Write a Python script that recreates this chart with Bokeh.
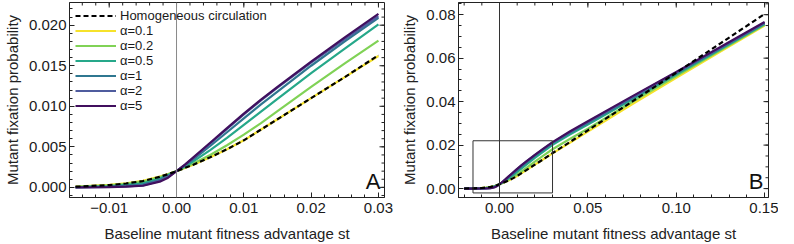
from bokeh.plotting import figure
from bokeh.layouts import row
from bokeh.models import (SingleIntervalTicker, CustomJSTickFormatter,
                          Span, Label, Legend, LegendItem, BoxAnnotation)
from bokeh.embed import file_html
from bokeh.resources import INLINE
import numpy as np

# ---------------- data ----------------
s = [-0.02, -0.015, -0.01, -0.0075, -0.005, -0.0025, -0.00125, 0.0, 0.00125, 0.0025, 0.005, 0.0075,
     0.01, 0.0125, 0.015, 0.02, 0.025, 0.03, 0.04, 0.05, 0.075, 0.1, 0.125, 0.15]

homogeneous = [0.00003, 0.00008, 0.00028, 0.00048, 0.00078, 0.0013, 0.00163, 0.0020, 0.0024, 0.0028,
               0.0037, 0.0047, 0.0058, 0.0071, 0.0084, 0.0110, 0.0136, 0.0163, 0.0215, 0.0268,
               0.0400, 0.0533, 0.0668, 0.0803]
alpha_0_1 = [0.00003, 0.00009, 0.0003, 0.0005, 0.0008, 0.00132, 0.00165, 0.0020, 0.0024, 0.0028,
             0.0037, 0.0047, 0.0058, 0.0071, 0.0084, 0.0110, 0.0136, 0.0162, 0.0212, 0.0262,
             0.0388, 0.0510, 0.0630, 0.0750]
alpha_0_2 = [0.00002, 0.00006, 0.00024, 0.00042, 0.0007, 0.00124, 0.0016, 0.0020, 0.00246, 0.00295,
             0.0040, 0.0052, 0.0065, 0.0079, 0.0094, 0.0124, 0.0153, 0.0181, 0.0229, 0.0275,
             0.0398, 0.0518, 0.0636, 0.0754]
alpha_0_5 = [0.00001, 0.00003, 0.00014, 0.0003, 0.0005, 0.0011, 0.00152, 0.0020, 0.00258, 0.0032,
             0.0046, 0.0061, 0.0077, 0.0093, 0.0109, 0.0141, 0.0171, 0.0201, 0.0250, 0.0295,
             0.0410, 0.0525, 0.0641, 0.0757]
alpha_1 = [0.0, 0.00002, 0.0001, 0.0002, 0.00035, 0.0009, 0.0014, 0.0020, 0.0027, 0.00345,
           0.0051, 0.0068, 0.0085, 0.0102, 0.0118, 0.0150, 0.0180, 0.0209, 0.0258, 0.0303,
           0.0416, 0.0530, 0.0645, 0.0760]
alpha_2 = [0.0, 0.00001, 0.00005, 0.00012, 0.00025, 0.0008, 0.0013, 0.0020, 0.00278, 0.0036,
           0.0054, 0.0072, 0.0090, 0.0107, 0.0123, 0.0154, 0.0183, 0.0211, 0.0260, 0.0306,
           0.0420, 0.0534, 0.0648, 0.0763]
alpha_5 = [0.0, 0.0, 0.00003, 0.00008, 0.0002, 0.0007, 0.0012, 0.0020, 0.0028, 0.0037,
           0.0055, 0.0073, 0.0091, 0.0108, 0.0124, 0.0155, 0.0185, 0.0214, 0.0264, 0.0310,
           0.0424, 0.0537, 0.0651, 0.0766]

alpha_labels = ["α=0.1", "α=0.2", "α=0.5", "α=1", "α=2", "α=5"]
alpha_series = [alpha_0_1, alpha_0_2, alpha_0_5, alpha_1, alpha_2, alpha_5]
alpha_colors = ["#F6E22B", "#80D256", "#26A88A", "#2F7790", "#4F5C9E", "#410F5E"]
hom_label = "Homogeneous circulation"

panel_a_s = (-0.015, 0.03)                  # s-window of panel A
inset_box = (-0.015, 0.03, -0.002, 0.022)   # box in panel B marking panel A

x_label = "Baseline mutant fitness advantage st"
y_label = "Mutant fixation probability"

FONT = "Liberation Sans"
FRAME = "#222222"
H = 244


def fmt(decimals):
    return CustomJSTickFormatter(code=(
        "const a = Math.abs(tick).toFixed(%d);"
        "return (tick < -1e-12 ? '\u2212' : '') + a;" % decimals))


def tick_positions(lo, hi, step):
    k0 = int(np.ceil(lo / step - 1e-9))
    k1 = int(np.floor(hi / step + 1e-9))
    return np.arange(k0, k1 + 1) * step


def style(p, xint, xminor, yint, yminor, xdec, ydec):
    p.xaxis.ticker = SingleIntervalTicker(interval=xint, num_minor_ticks=xminor)
    p.yaxis.ticker = SingleIntervalTicker(interval=yint, num_minor_ticks=yminor)
    p.xaxis.formatter = fmt(xdec)
    p.yaxis.formatter = fmt(ydec)
    for ax in (p.xaxis[0], p.yaxis[0]):
        ax.major_tick_in = 5
        ax.major_tick_out = 0
        ax.minor_tick_in = 3
        ax.minor_tick_out = 0
        ax.axis_line_color = FRAME
        ax.major_tick_line_color = FRAME
        ax.minor_tick_line_color = FRAME
        ax.major_label_text_font = FONT
        ax.major_label_text_font_size = "15px"
        ax.major_label_text_color = "#1a1a1a"
        ax.axis_label_text_font = FONT
        ax.axis_label_text_font_size = "15px"
        ax.axis_label_text_font_style = "normal"
        ax.axis_label_text_color = "#222222"
    p.xaxis.axis_label = x_label
    p.yaxis.axis_label = y_label
    p.xaxis.major_label_standoff = 5
    p.xaxis.axis_label_standoff = 9
    p.yaxis.major_label_standoff = 3
    p.yaxis.axis_label_standoff = 5
    p.xgrid.visible = False
    p.ygrid.visible = False
    p.outline_line_color = FRAME
    p.outline_line_alpha = 1
    p.background_fill_color = "white"
    p.border_fill_color = "white"
    # mirrored inward ticks on the top and right frame edges (half clipped by the frame)
    xr, yr = p.x_range, p.y_range
    xmaj = tick_positions(xr.start, xr.end, xint)
    xmin = tick_positions(xr.start, xr.end, xint / xminor)
    ymaj = tick_positions(yr.start, yr.end, yint)
    ymin = tick_positions(yr.start, yr.end, yint / yminor)
    p.scatter(xmin, np.full(len(xmin), yr.end), marker="dash", size=6, angle=np.pi / 2,
              line_color=FRAME, line_width=1)
    p.scatter(xmaj, np.full(len(xmaj), yr.end), marker="dash", size=10, angle=np.pi / 2,
              line_color=FRAME, line_width=1)
    p.scatter(np.full(len(ymin), xr.end), ymin, marker="dash", size=6,
              line_color=FRAME, line_width=1)
    p.scatter(np.full(len(ymaj), xr.end), ymaj, marker="dash", size=10,
              line_color=FRAME, line_width=1)


s_arr = np.array(s)

# ---------------- panel A ----------------
pa = figure(width=398, height=H, x_range=(-0.0159, 0.0309), y_range=(-0.00125, 0.0228),
            output_backend="svg", toolbar_location=None,
            min_border_left=62, min_border_right=14, min_border_top=2, min_border_bottom=46)
style(pa, 0.01, 5, 0.005, 5, 2, 3)
pa.add_layout(Span(location=0, dimension="height", line_color="#8a8a8a", line_width=1))

mask = (s_arr >= panel_a_s[0] - 1e-12) & (s_arr <= panel_a_s[1] + 1e-12)
alpha_renderers = []
for lab, ser, col in zip(alpha_labels, alpha_series, alpha_colors):
    r = pa.line(s_arr[mask], np.array(ser)[mask], line_color=col, line_width=2.2)
    alpha_renderers.append((lab, r))
rh = pa.line(s_arr[mask], np.array(homogeneous)[mask], line_color="black", line_width=2.2,
             line_dash="5 3")
items = [LegendItem(label=hom_label, renderers=[rh])]
for lab, r in alpha_renderers:
    items.append(LegendItem(label=lab, renderers=[r]))
leg = Legend(items=items, location="top_left", margin=6, padding=8, spacing=0,
             glyph_width=41, glyph_height=15, label_height=15, label_standoff=4,
             label_text_font=FONT, label_text_font_size="13px", label_text_color="#1a1a1a",
             background_fill_alpha=0, border_line_color=None)
pa.add_layout(leg)
pa.add_layout(Label(x=pa.x_range.end, y=pa.y_range.start, x_offset=-4, y_offset=4,
                    text="A", text_align="right", text_baseline="bottom",
                    text_font=FONT, text_font_size="22px", text_color="#111111"))

# ---------------- panel B ----------------
pb = figure(width=380, height=H, x_range=(-0.0232, 0.1522), y_range=(-0.0041, 0.0856),
            output_backend="svg", toolbar_location=None,
            min_border_left=56, min_border_right=10, min_border_top=2, min_border_bottom=46)
style(pb, 0.05, 5, 0.02, 4, 2, 2)
pb.add_layout(Span(location=0, dimension="height", line_color="#333333", line_width=1))
pb.add_layout(BoxAnnotation(left=inset_box[0], right=inset_box[1], bottom=inset_box[2],
                            top=inset_box[3], fill_alpha=0, line_color="#333333",
                            line_alpha=1, line_width=1))
for lab, ser, col in zip(alpha_labels, alpha_series, alpha_colors):
    pb.line(s_arr, ser, line_color=col, line_width=2.2)
pb.line(s_arr, homogeneous, line_color="black", line_width=2.2, line_dash="5 3")
pb.add_layout(Label(x=pb.x_range.end, y=pb.y_range.start, x_offset=-5, y_offset=4,
                    text="B", text_align="right", text_baseline="bottom",
                    text_font=FONT, text_font_size="22px", text_color="#111111"))

layout = row(pa, pb)
open("out.html", "w").write(file_html(layout, INLINE))
